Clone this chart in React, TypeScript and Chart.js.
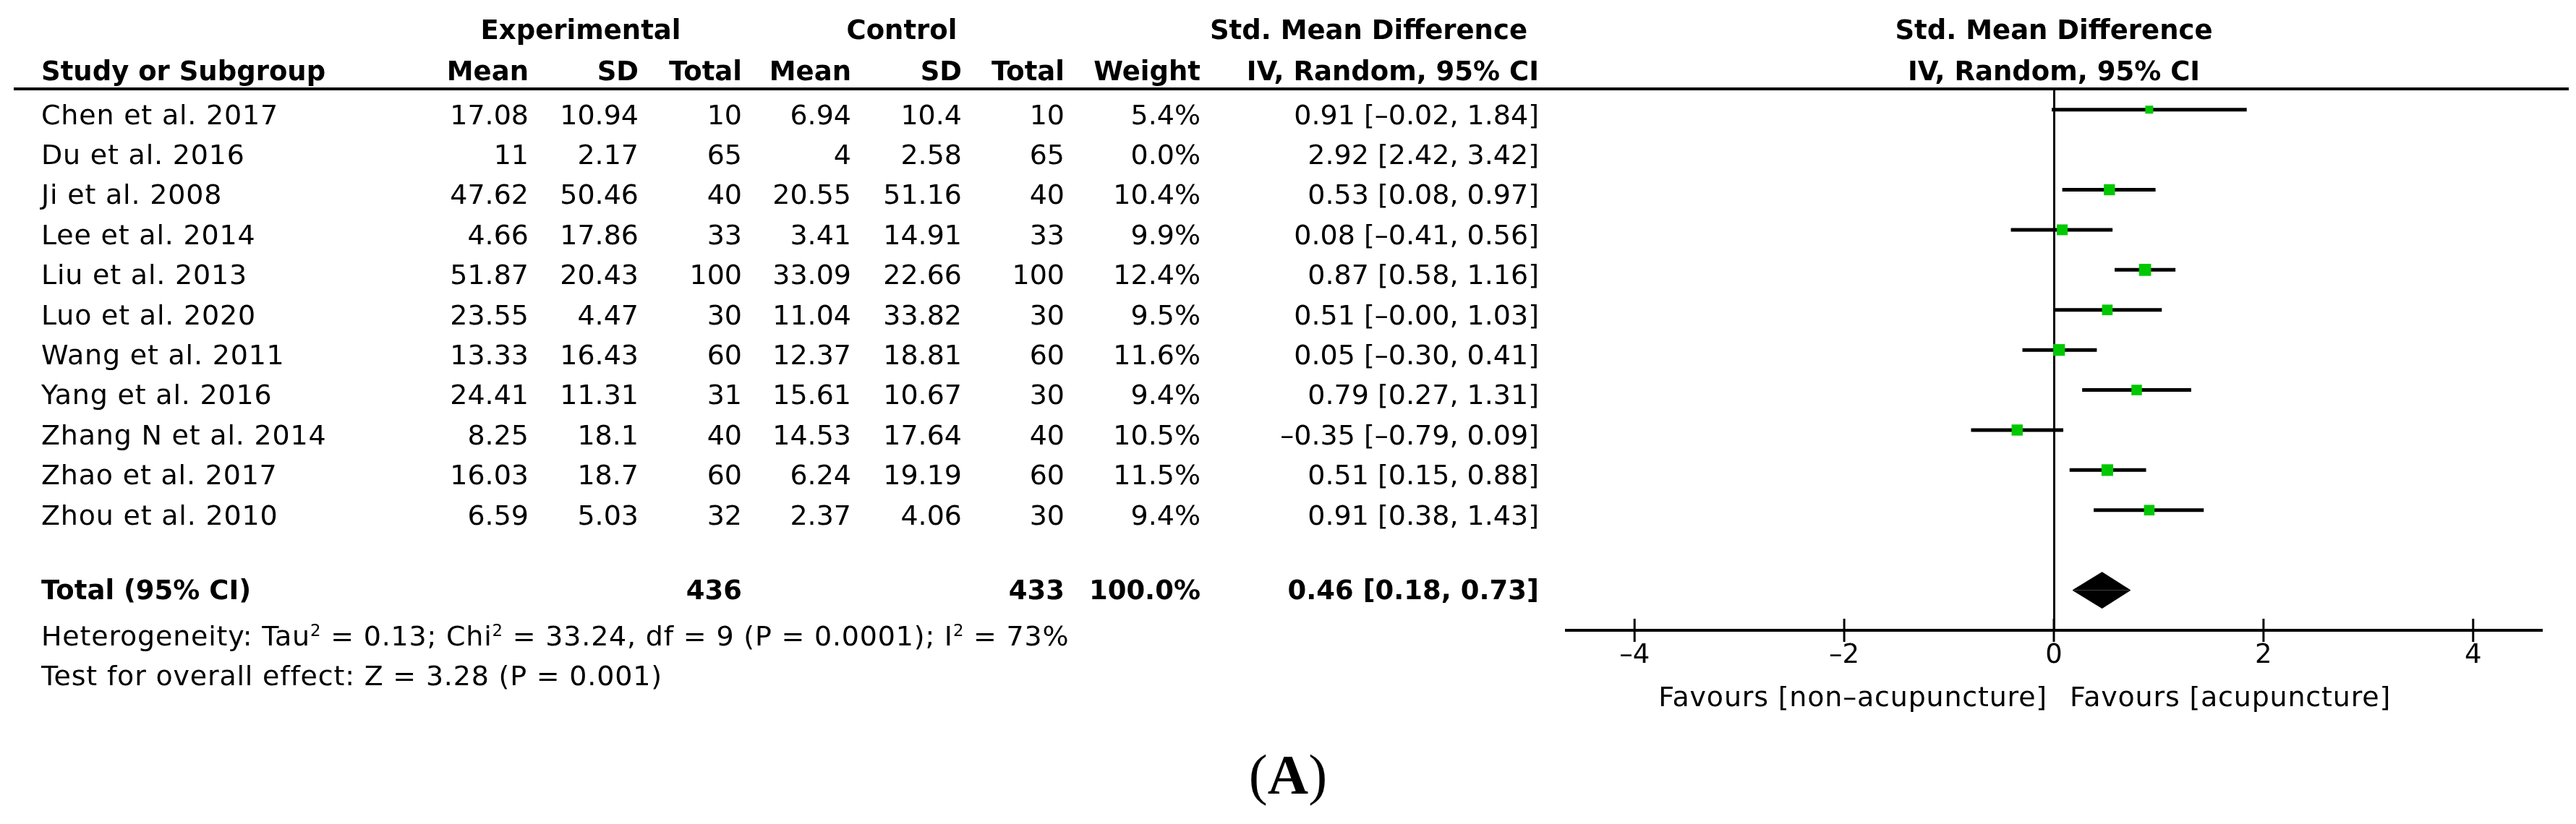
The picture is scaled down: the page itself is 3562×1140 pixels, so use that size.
import React, { useEffect, useRef } from "react";
import { Chart, registerables } from "chart.js";

Chart.register(...registerables);

// ---------------- data ----------------
const STUDIES = [
  "Chen et al. 2017",
  "Du et al. 2016",
  "Ji et al. 2008",
  "Lee et al. 2014",
  "Liu et al. 2013",
  "Luo et al. 2020",
  "Wang et al. 2011",
  "Yang et al. 2016",
  "Zhang N et al. 2014",
  "Zhao et al. 2017",
  "Zhou et al. 2010",
];
const EXP_MEAN = [17.08, 11, 47.62, 4.66, 51.87, 23.55, 13.33, 24.41, 8.25, 16.03, 6.59];
const EXP_SD = [10.94, 2.17, 50.46, 17.86, 20.43, 4.47, 16.43, 11.31, 18.1, 18.7, 5.03];
const EXP_N = [10, 65, 40, 33, 100, 30, 60, 31, 40, 60, 32];
const CTRL_MEAN = [6.94, 4, 20.55, 3.41, 33.09, 11.04, 12.37, 15.61, 14.53, 6.24, 2.37];
const CTRL_SD = [10.4, 2.58, 51.16, 14.91, 22.66, 33.82, 18.81, 10.67, 17.64, 19.19, 4.06];
const CTRL_N = [10, 65, 40, 33, 100, 30, 60, 30, 40, 60, 30];
const WEIGHT = [5.4, 0.0, 10.4, 9.9, 12.4, 9.5, 11.6, 9.4, 10.5, 11.5, 9.4];
const SMD = [0.91, 2.92, 0.53, 0.08, 0.87, 0.51, 0.05, 0.79, -0.35, 0.51, 0.91];
const CI_LO = [-0.02, 2.42, 0.08, -0.41, 0.58, -0.0, -0.3, 0.27, -0.79, 0.15, 0.38];
const CI_HI = [1.84, 3.42, 0.97, 0.56, 1.16, 1.03, 0.41, 1.31, 0.09, 0.88, 1.43];

const TOTAL_EXP_N = 436;
const TOTAL_CTRL_N = 433;
const TOTAL_WEIGHT = 100.0;
const TOTAL_SMD = 0.46;
const TOTAL_LO = 0.18;
const TOTAL_HI = 0.73;

const X_TICKS = [-4, -2, 0, 2, 4];
const HETEROGENEITY = { tau2: "0.13", chi2: "33.24", df: "9", p: "0.0001", i2: "73%" };
const OVERALL = { z: "3.28", p: "0.001" };

// ---------------- layout ----------------
const W = 3562;
const H = 1140;
const AREA_LEFT = 2166;
const AREA_RIGHT = 3514;
const AREA_TOP = 124;
const AREA_BOTTOM = 872;
const AXIS_H = 60;
const X_MIN = -4.65;
const X_MAX = 4.65;
const Y_MIN = -0.5;
const Y_MAX = 13;
const TOTAL_ROW = 12;
const DIAMOND_HALF = 0.45;

const UNIT = (AREA_BOTTOM - AREA_TOP) / (Y_MAX - Y_MIN);
const rowPx = (v: number) => AREA_TOP + (v - Y_MIN) * UNIT;
const ZERO_PX = AREA_LEFT + ((0 - X_MIN) / (X_MAX - X_MIN)) * (AREA_RIGHT - AREA_LEFT);

const SANS = '"DejaVu Sans", sans-serif';
const SERIF = '"Liberation Serif", "Times New Roman", serif';
const FS = 38;
const FSB = 37;
const GREEN = "#00c800";

const dash = "\u2013";
const fmt = (v: number, d: number) =>
  (v < 0 || Object.is(v, -0) ? dash : "") + Math.abs(v).toFixed(d);
const ciText = (m: number, lo: number, hi: number) => `${fmt(m, 2)} [${fmt(lo, 2)}, ${fmt(hi, 2)}]`;

// ---------------- text helper ----------------
type TProps = {
  x: number;
  y: number;
  align?: "left" | "right" | "center";
  bold?: boolean;
  size?: number;
  ls?: number;
  family?: string;
  children?: React.ReactNode;
};

function T({ x, y, align = "left", bold = false, size, ls = 0, family = SANS, children }: TProps) {
  const s = size ?? (bold ? FSB : FS);
  const base = family === SANS ? 0.846 : 0.8375;
  const style: React.CSSProperties = {
    position: "absolute",
    top: y - base * s,
    fontSize: s,
    lineHeight: 1,
    fontFamily: family,
    fontWeight: bold ? 700 : 400,
    whiteSpace: "nowrap",
    letterSpacing: ls,
    color: "#000",
  };
  if (align === "left") style.left = x;
  else if (align === "right") style.right = W - x;
  else {
    style.left = x;
    style.transform = "translateX(-50%)";
  }
  return <div style={style}>{children}</div>;
}

const Sup = ({ children }: { children: React.ReactNode }) => (
  <span style={{ fontSize: "0.6em", position: "relative", top: "-0.55em" }}>{children}</span>
);

// column right edges
const C_NAME = 57;
const C_EM = 731;
const C_ESD = 883;
const C_EN = 1026;
const C_CM = 1177;
const C_CSD = 1330;
const C_CN = 1472;
const C_W = 1660;
const C_CI = 2128;

const NAME_LS = 0.8;

// ---------------- chart ----------------
const tickMarks = {
  id: "tickMarks",
  afterDraw(chart: any) {
    const sx = chart.scales.x;
    const ctx = chart.ctx;
    const yb = chart.chartArea.bottom;
    ctx.save();
    ctx.strokeStyle = "#000";
    ctx.lineWidth = 3;
    sx.ticks.forEach((t: any) => {
      const px = sx.getPixelForValue(t.value);
      ctx.beginPath();
      ctx.moveTo(px, yb - 16);
      ctx.lineTo(px, yb + 16);
      ctx.stroke();
    });
    ctx.restore();
  },
};

function ForestChart() {
  const ref = useRef<HTMLCanvasElement | null>(null);
  useEffect(() => {
    if (!ref.current) return;
    const shown = STUDIES.map((_, i) => i).filter((i) => WEIGHT[i] > 0);

    const squares = {
      label: "SMD",
      data: shown.map((i) => ({ x: SMD[i], y: i, w: WEIGHT[i] })),
      pointStyle: "rect",
      pointRadius: (c: any) => 3.36 * Math.sqrt(c.raw ? c.raw.w : 0),
      pointBackgroundColor: GREEN,
      pointBorderWidth: 0,
      showLine: false,
      order: 0,
    };
    const lines = shown.map((i) => ({
      label: STUDIES[i],
      data: [
        { x: CI_LO[i], y: i },
        { x: CI_HI[i], y: i },
      ],
      showLine: true,
      borderColor: "#000",
      borderWidth: 5,
      pointRadius: 0,
      borderCapStyle: "butt",
      order: 2,
    }));
    const diamondTop = {
      label: "Total upper",
      data: [
        { x: TOTAL_LO, y: TOTAL_ROW },
        { x: TOTAL_SMD, y: TOTAL_ROW - DIAMOND_HALF },
        { x: TOTAL_HI, y: TOTAL_ROW },
      ],
      showLine: true,
      borderColor: "#000",
      borderWidth: 1,
      backgroundColor: "#000",
      fill: { value: TOTAL_ROW },
      pointRadius: 0,
      order: 1,
    };
    const diamondBottom = {
      label: "Total lower",
      data: [
        { x: TOTAL_LO, y: TOTAL_ROW },
        { x: TOTAL_SMD, y: TOTAL_ROW + DIAMOND_HALF },
        { x: TOTAL_HI, y: TOTAL_ROW },
      ],
      showLine: true,
      borderColor: "#000",
      borderWidth: 1,
      backgroundColor: "#000",
      fill: { value: TOTAL_ROW },
      pointRadius: 0,
      order: 1,
    };

    const chart = new Chart(ref.current, {
      type: "scatter",
      data: { datasets: [squares, diamondTop, diamondBottom, ...lines] as any },
      options: {
        animation: false,
        responsive: false,
        maintainAspectRatio: false,
        layout: {
          padding: {
            left: AREA_LEFT,
            right: W - AREA_RIGHT,
            top: AREA_TOP,
            bottom: H - AREA_BOTTOM - AXIS_H,
          },
        },
        plugins: {
          legend: { display: false },
          tooltip: { enabled: false },
          title: { display: false },
        },
        scales: {
          x: {
            type: "linear",
            position: "bottom",
            min: X_MIN,
            max: X_MAX,
            afterBuildTicks: (s: any) => {
              s.ticks = X_TICKS.map((v) => ({ value: v }));
            },
            afterFit: (s: any) => {
              s.height = AXIS_H;
            },
            grid: {
              display: true,
              drawOnChartArea: true,
              drawTicks: false,
              lineWidth: 3,
              color: (c: any) => (c.tick && c.tick.value === 0 ? "#000" : "rgba(0,0,0,0)"),
            },
            border: { display: true, color: "#000", width: 4 },
            ticks: {
              color: "#000",
              font: { family: SANS, size: 37 },
              padding: 13,
              maxRotation: 0,
              autoSkip: false,
              callback: (v: any) => fmt(Number(v), 0),
            },
          },
          y: {
            type: "linear",
            min: Y_MIN,
            max: Y_MAX,
            reverse: true,
            display: false,
          },
        },
      } as any,
      plugins: [tickMarks],
    });
    return () => chart.destroy();
  }, []);
  return (
    <canvas
      ref={ref}
      width={W}
      height={H}
      style={{ position: "absolute", left: 0, top: 0, width: W, height: H }}
    />
  );
}

export default function App() {
  const H1 = 54;
  const H2 = 111;
  const totalBase = rowPx(TOTAL_ROW) + 13;
  return (
    <div style={{ position: "absolute", left: 0, top: 0, width: W, height: H, background: "#fff", overflow: "hidden" }}>
      <ForestChart />
      <div style={{ position: "absolute", left: 0, top: 0, width: W, height: H, pointerEvents: "none" }}>
        {/* header line */}
        <div style={{ position: "absolute", left: 19, top: AREA_TOP - 3, width: 3552 - 19, height: 4, background: "#000" }} />

        {/* header row 1 */}
        <T x={803} y={H1} align="center" bold>Experimental</T>
        <T x={1247} y={H1} align="center" bold>Control</T>
        <T x={2112} y={H1} align="right" bold>Std. Mean Difference</T>
        <T x={ZERO_PX} y={H1} align="center" bold>Std. Mean Difference</T>

        {/* header row 2 */}
        <T x={C_NAME} y={H2} bold>Study or Subgroup</T>
        <T x={C_EM} y={H2} align="right" bold>Mean</T>
        <T x={C_ESD} y={H2} align="right" bold>SD</T>
        <T x={C_EN} y={H2} align="right" bold>Total</T>
        <T x={C_CM} y={H2} align="right" bold>Mean</T>
        <T x={C_CSD} y={H2} align="right" bold>SD</T>
        <T x={C_CN} y={H2} align="right" bold>Total</T>
        <T x={C_W} y={H2} align="right" bold>Weight</T>
        <T x={C_CI} y={H2} align="right" bold>IV, Random, 95% CI</T>
        <T x={ZERO_PX} y={H2} align="center" bold>IV, Random, 95% CI</T>

        {/* study rows */}
        {STUDIES.map((name, i) => {
          const b = rowPx(i) + 20;
          return (
            <React.Fragment key={name}>
              <T x={C_NAME} y={b} ls={NAME_LS}>{name}</T>
              <T x={C_EM} y={b} align="right">{String(EXP_MEAN[i])}</T>
              <T x={C_ESD} y={b} align="right">{String(EXP_SD[i])}</T>
              <T x={C_EN} y={b} align="right">{String(EXP_N[i])}</T>
              <T x={C_CM} y={b} align="right">{String(CTRL_MEAN[i])}</T>
              <T x={C_CSD} y={b} align="right">{String(CTRL_SD[i])}</T>
              <T x={C_CN} y={b} align="right">{String(CTRL_N[i])}</T>
              <T x={C_W} y={b} align="right">{WEIGHT[i].toFixed(1) + "%"}</T>
              <T x={C_CI} y={b} align="right">{ciText(SMD[i], CI_LO[i], CI_HI[i])}</T>
            </React.Fragment>
          );
        })}

        {/* total row */}
        <T x={C_NAME} y={totalBase} bold>Total (95% CI)</T>
        <T x={C_EN} y={totalBase} align="right" bold>{String(TOTAL_EXP_N)}</T>
        <T x={C_CN} y={totalBase} align="right" bold>{String(TOTAL_CTRL_N)}</T>
        <T x={C_W} y={totalBase} align="right" bold>{TOTAL_WEIGHT.toFixed(1) + "%"}</T>
        <T x={C_CI} y={totalBase} align="right" bold>{ciText(TOTAL_SMD, TOTAL_LO, TOTAL_HI)}</T>

        {/* footnotes */}
        <T x={C_NAME} y={893} ls={NAME_LS}>
          Heterogeneity: Tau<Sup>2</Sup> = {HETEROGENEITY.tau2}; Chi<Sup>2</Sup> = {HETEROGENEITY.chi2}, df ={" "}
          {HETEROGENEITY.df} (P = {HETEROGENEITY.p}); I<Sup>2</Sup> = {HETEROGENEITY.i2}
        </T>
        <T x={C_NAME} y={948} ls={NAME_LS}>
          Test for overall effect: Z = {OVERALL.z} (P = {OVERALL.p})
        </T>

        {/* favours labels */}
        <T x={ZERO_PX - 9} y={977} align="right" ls={NAME_LS}>Favours [non{dash}acupuncture]</T>
        <T x={ZERO_PX + 22} y={977} ls={NAME_LS}>Favours [acupuncture]</T>

        {/* panel label */}
        <T x={W / 2} y={1098} align="center" size={78} family={SERIF}>
          (<b>A</b>)
        </T>
      </div>
    </div>
  );
}
